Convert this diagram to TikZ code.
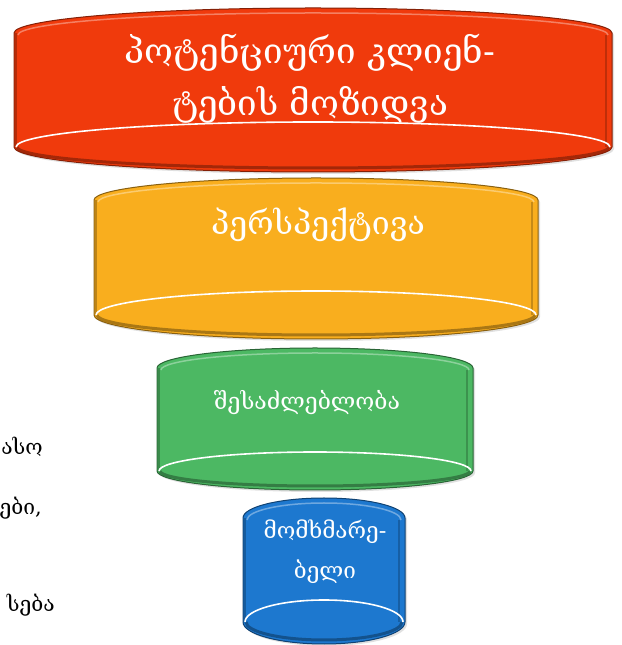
\documentclass[tikz,border=0pt]{standalone}
\usepackage{fontspec}
\newfontfamily\geofont{DejaVu Serif}
\definecolor{tierred}{RGB}{240,58,12}
\definecolor{tierorange}{RGB}{249,174,30}
\definecolor{tiergreen}{RGB}{76,184,99}
\definecolor{tierblue}{RGB}{29,120,207}
\tikzset{
    tiertext/.style={text=white, align=center, inner sep=0pt},
    sidetext/.style={text=black, inner sep=0pt, anchor=base east,
        font=\geofont\fontsize{21}{24}\selectfont}
}

\begin{document}
\begin{tikzpicture}[x=1pt, y=1pt]
	\useasboundingbox (0,0) rectangle (621,645);
	% funnel tiers: centre x / half width / top side y / top radius / bottom y / bottom radius / colour
	\foreach \cx/\hw/\yt/\rt/\yb/\rb/\col in {
	    313/299/612/25/498/25/tierred,
	    316/222/445/22/330/24/tierorange,
	    315/158/277/20/174/19/tiergreen,
	    324/81/127/20/23/22/tierblue}{
		% soft shadow
		\fill[black, opacity=.12] (\cx-\hw+2,\yb-2) -- (\cx-\hw+2,\yt-2)
		    arc[start angle=180, end angle=0, x radius=\hw, y radius=\rt]
		    -- (\cx+\hw+2,\yb-2)
		    arc[start angle=0, end angle=-180, x radius=\hw, y radius=\rb] -- cycle;
		% body
		\filldraw[fill=\col, draw=\col!55!black, line width=1pt]
		    (\cx-\hw,\yb) -- (\cx-\hw,\yt)
		    arc[start angle=180, end angle=0, x radius=\hw, y radius=\rt]
		    -- (\cx+\hw,\yb)
		    arc[start angle=0, end angle=-180, x radius=\hw, y radius=\rb] -- cycle;
		% bevels
		\draw[\col!60!black, line width=2.5pt, opacity=.6]
		    (\cx-\hw+1.8,\yb) -- (\cx-\hw+1.8,\yt);
		\draw[\col!60!black, line width=1.5pt, opacity=.5]
		    (\cx+\hw-6,\yb) -- (\cx+\hw-6,\yt-2);
		\draw[\col!40!white, line width=1.5pt, opacity=.6]
		    (\cx-\hw+4,\yt-2)
		    arc[start angle=180, end angle=0, x radius=\hw-4, y radius=\rt-3];
		\draw[\col!55!black, line width=3pt, opacity=.7]
		    (\cx+\hw-3,\yb)
		    arc[start angle=0, end angle=-180, x radius=\hw-3, y radius=\rb-4];
		% rim
		\draw[white, line width=1.6pt]
		    (\cx-\hw+2,\yb)
		    arc[start angle=180, end angle=0, x radius=\hw-2, y radius=\rb];
	}
	\node (attract) [tiertext, font=\geofont\fontsize{35}{52}\selectfont]
	    at (310,566) {პოტენციური კლიენ-\\ტების მოზიდვა};
	\node (outlook) [tiertext, anchor=base, font=\geofont\fontsize{32}{36}\selectfont]
	    at (318,410) {პერსპექტივა};
	\node (chance) [tiertext, anchor=base, font=\geofont\fontsize{23}{28}\selectfont]
	    at (307,235) {შესაძლებლობა};
	\node (user) [tiertext, font=\geofont\fontsize{22.5}{40}\selectfont]
	    at (325,93) {მომხმარე-\\ბელი};
	% text running in from the left
	\node (side1) [sidetext] at (43,190) {ასო};
	\node (side2) [sidetext] at (42,130) {ები,};
	\node (side3) [sidetext] at (55,33) {სება};
\end{tikzpicture}
\end{document}
